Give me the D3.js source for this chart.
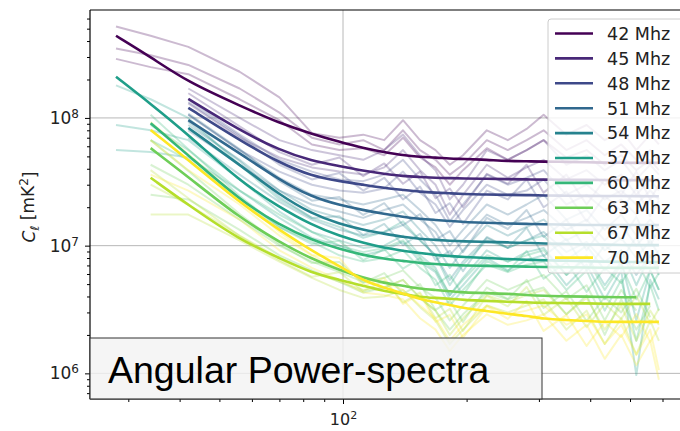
<!DOCTYPE html>
<html>
<head>
<meta charset="utf-8">
<title>Angular Power-spectra</title>
<script src="https://cdn.jsdelivr.net/npm/d3@7"></script>
<style>
    html, body { margin: 0; background: #fff; }
    svg { display: block; font-family: "DejaVu Sans", sans-serif; }
    .grid line { stroke: #b0b0b0; stroke-width: 0.9; }
    .axis path { display: none; }
    .axis line { stroke: #000; stroke-width: 1; }
    .axis text { fill: #222; font-family: "DejaVu Sans", sans-serif; }
</style>
</head>
<body>
<script>
var w = 680, h = 431;
var padL = 90, padT = 10, padR = 690, padB = 399;

var labels = ["42 Mhz", "45 Mhz", "48 Mhz", "51 Mhz", "54 Mhz", "57 Mhz", "60 Mhz", "63 Mhz", "67 Mhz", "70 Mhz"];

// multipole bins shared by every curve
var ells = [28, 34, 42, 56, 70, 84, 98, 112, 126, 140, 154, 168, 182, 196, 224, 252, 280, 308, 350, 392, 434, 476, 518, 560, 588];

// index of the first bin used by each frequency
var startBin = [0, 2, 2, 2, 2, 0, 1, 1, 1, 1];

// fitted spectra (solid lines), mK^2
var fit42 = [4.4e8, 3.0e8, 1.9e8, 1.25e8, 9.1e7, 7.5e7, 6.5e7, 5.8e7, 5.4e7, 5.1e7, 4.95e7, 4.9e7, 4.8e7, 4.78e7, 4.7e7, 4.6e7, 4.58e7, 4.55e7, 4.53e7, 4.5e7, 4.47e7, 4.45e7, 4.45e7, 4.45e7, 4.45e7];
var fit45 = [1.41e8, 8.0e7, 5.6e7, 4.6e7, 4.2e7, 3.85e7, 3.65e7, 3.5e7, 3.45e7, 3.4e7, 3.38e7, 3.36e7, 3.34e7, 3.32e7, 3.3e7, 3.29e7, 3.28e7, 3.27e7, 3.27e7, 3.26e7, 3.26e7, 3.26e7, 3.26e7];
var fit48 = [1.2e8, 6.7e7, 4.45e7, 3.5e7, 3.2e7, 3.0e7, 2.83e7, 2.73e7, 2.64e7, 2.6e7, 2.57e7, 2.54e7, 2.51e7, 2.5e7, 2.49e7, 2.47e7, 2.46e7, 2.45e7, 2.45e7, 2.45e7, 2.44e7, 2.44e7, 2.44e7];
var fit51 = [9.6e7, 5.3e7, 3.27e7, 2.4e7, 2.08e7, 1.9e7, 1.77e7, 1.68e7, 1.62e7, 1.59e7, 1.56e7, 1.53e7, 1.51e7, 1.49e7, 1.48e7, 1.47e7, 1.46e7, 1.45e7, 1.45e7, 1.45e7, 1.45e7, 1.45e7, 1.45e7];
var fit54 = [8.35e7, 4.3e7, 2.5e7, 1.77e7, 1.48e7, 1.33e7, 1.24e7, 1.17e7, 1.13e7, 1.11e7, 1.09e7, 1.08e7, 1.07e7, 1.06e7, 1.05e7, 1.04e7, 1.03e7, 1.02e7, 1.02e7, 1.01e7, 1.01e7, 1.01e7, 1.01e7];
var fit57 = [2.1e8, 1.29e8, 7.4e7, 3.2e7, 2.0e7, 1.45e7, 1.19e7, 1.05e7, 9.6e6, 9.1e6, 8.75e6, 8.45e6, 8.3e6, 8.15e6, 8.0e6, 7.85e6, 7.75e6, 7.7e6, 7.6e6, 7.55e6, 7.5e6, 7.45e6, 7.45e6, 7.45e6, 7.45e6];
var fit60 = [9.1e7, 5.1e7, 2.28e7, 1.45e7, 1.11e7, 9.4e6, 8.45e6, 7.9e6, 7.6e6, 7.3e6, 7.2e6, 7.06e6, 7.0e6, 6.95e6, 6.9e6, 6.85e6, 6.8e6, 6.78e6, 6.75e6, 6.72e6, 6.7e6, 6.7e6, 6.7e6, 6.7e6];
var fit63 = [5.8e7, 3.45e7, 1.65e7, 1.07e7, 7.85e6, 6.45e6, 5.6e6, 5.1e6, 4.85e6, 4.6e6, 4.5e6, 4.4e6, 4.3e6, 4.25e6, 4.2e6, 4.1e6, 4.05e6, 4.0e6, 4.0e6, 3.95e6, 3.95e6, 3.95e6];
var fit67 = [3.4e7, 2.08e7, 1.11e7, 8.0e6, 6.1e6, 5.4e6, 4.85e6, 4.4e6, 4.2e6, 3.95e6, 3.9e6, 3.85e6, 3.76e6, 3.7e6, 3.63e6, 3.6e6, 3.56e6, 3.55e6, 3.54e6, 3.5e6, 3.5e6, 3.5e6, 3.5e6];
var fit70 = [8.05e7, 4.69e7, 2.17e7, 1.33e7, 9.1e6, 6.95e6, 5.3e6, 4.7e6, 4.2e6, 3.82e6, 3.6e6, 3.43e6, 3.25e6, 3.08e6, 2.92e6, 2.82e6, 2.67e6, 2.62e6, 2.57e6, 2.53e6, 2.53e6, 2.53e6, 2.53e6, 2.53e6];

// individual realisations (faint lines), mK^2
var raw42a = [5.2e8, 4.4e8, 3.6e8, 2.3e8, 1.45e8, 7.6e7, 7.0e7, 7.4e7, 6.7e7, 9.6e7, 6.7e7, 5.6e7, 4.3e7, 5.1e7, 8.0e7, 6.7e7, 8.2e7, 1.06e8, 7.4e7, 8.8e7, 6.7e7, 8.0e7, 5.6e7, 7.4e7, 6.2e7];
var raw42b = [3.5e8, 3.1e8, 2.6e8, 1.7e8, 1.1e8, 7.0e7, 6.2e7, 6.7e7, 5.6e7, 8.0e7, 5.6e7, 4.7e7, 3.6e7, 4.3e7, 6.7e7, 5.6e7, 6.7e7, 8.0e7, 5.6e7, 6.7e7, 5.1e7, 6.2e7, 4.7e7, 5.6e7, 4.7e7];
var raw42c = [2.9e8, 2.5e8, 2.2e8, 1.4e8, 9.6e7, 6.2e7, 5.6e7, 5.8e7, 5.1e7, 7.0e7, 4.9e7, 4.1e7, 3.0e7, 3.9e7, 5.8e7, 4.7e7, 5.6e7, 6.7e7, 4.9e7, 5.6e7, 4.3e7, 5.1e7, 3.9e7, 4.7e7, 3.9e7];
var raw45a = [1.7e8, 1.0e8, 6.7e7, 5.6e7, 5.1e7, 4.7e7, 5.6e7, 7.4e7, 5.1e7, 3.9e7, 2.3e7, 3.0e7, 5.6e7, 4.7e7, 5.6e7, 6.7e7, 4.3e7, 5.1e7, 3.9e7, 4.7e7, 3.3e7, 4.3e7, 3.6e7];
var raw45b = [1.3e8, 7.0e7, 4.9e7, 4.1e7, 3.8e7, 3.6e7, 4.1e7, 5.6e7, 3.9e7, 3.0e7, 1.75e7, 2.5e7, 4.3e7, 3.4e7, 4.1e7, 4.7e7, 3.3e7, 3.9e7, 3.0e7, 3.6e7, 2.5e7, 3.3e7, 2.7e7];
var raw45c = [1.56e8, 8.6e7, 5.4e7, 4.3e7, 4.9e7, 3.5e7, 4.4e7, 3.05e7, 3.8e7, 2.35e7, 2.8e7, 2.0e7, 3.65e7, 3.05e7, 4.3e7, 2.6e7, 3.6e7, 2.1e7, 3.3e7, 2.5e7, 3.8e7, 2.3e7, 3.0e7];
var raw48a = [1.4e8, 7.4e7, 4.7e7, 3.8e7, 3.3e7, 3.2e7, 3.6e7, 4.7e7, 3.3e7, 2.5e7, 1.55e7, 2.1e7, 3.6e7, 3.0e7, 3.4e7, 3.9e7, 2.5e7, 3.0e7, 2.3e7, 2.7e7, 2.1e7, 2.7e7, 2.3e7];
var raw48b = [1.06e8, 5.6e7, 3.8e7, 3.0e7, 2.7e7, 2.6e7, 2.8e7, 3.8e7, 2.6e7, 2.1e7, 1.4e7, 1.9e7, 3.0e7, 2.5e7, 2.7e7, 3.3e7, 2.1e7, 2.5e7, 1.9e7, 2.3e7, 1.75e7, 2.3e7, 1.9e7];
var raw48c = [1.33e8, 7.2e7, 4.3e7, 3.3e7, 3.7e7, 2.7e7, 3.4e7, 2.3e7, 2.9e7, 1.8e7, 2.15e7, 1.48e7, 2.7e7, 2.3e7, 3.3e7, 2.0e7, 2.65e7, 1.55e7, 2.45e7, 1.88e7, 2.8e7, 1.7e7, 2.25e7];
var raw51a = [1.06e8, 5.6e7, 3.4e7, 2.5e7, 2.3e7, 2.1e7, 2.3e7, 2.5e7, 1.9e7, 1.45e7, 1.0e7, 1.33e7, 2.1e7, 1.75e7, 2.1e7, 2.5e7, 1.6e7, 1.9e7, 1.33e7, 1.75e7, 1.2e7, 1.6e7, 1.33e7];
var raw51b = [8.0e7, 4.3e7, 2.7e7, 2.1e7, 1.85e7, 1.65e7, 1.9e7, 2.1e7, 1.6e7, 1.28e7, 8.4e6, 1.1e7, 1.75e7, 1.45e7, 1.65e7, 1.9e7, 1.33e7, 1.6e7, 1.1e7, 1.45e7, 1.0e7, 1.33e7, 1.1e7];
var raw51c = [1.08e8, 5.7e7, 3.2e7, 2.25e7, 2.4e7, 1.74e7, 2.15e7, 1.45e7, 1.77e7, 1.11e7, 1.3e7, 8.9e6, 1.65e7, 1.35e7, 1.9e7, 1.17e7, 1.6e7, 9.2e6, 1.45e7, 1.11e7, 1.68e7, 1.01e7, 1.33e7];
var raw54a = [8.8e7, 4.7e7, 2.7e7, 1.9e7, 1.65e7, 1.45e7, 1.6e7, 1.85e7, 1.33e7, 1.0e7, 6.7e6, 9.2e6, 1.45e7, 1.2e7, 1.4e7, 1.6e7, 1.1e7, 1.33e7, 9.2e6, 1.15e7, 8.0e6, 1.1e7, 8.4e6];
var raw54b = [7.0e7, 3.6e7, 2.2e7, 1.6e7, 1.33e7, 1.2e7, 1.28e7, 1.45e7, 1.1e7, 8.4e6, 5.4e6, 7.5e6, 1.15e7, 9.6e6, 1.1e7, 1.28e7, 8.9e6, 1.07e7, 7.5e6, 9.2e6, 5.9e6, 8.4e6, 6.7e6];
var raw54c = [9.3e7, 4.6e7, 2.4e7, 1.65e7, 1.7e7, 1.21e7, 1.48e7, 1.01e7, 1.24e7, 7.7e6, 9.1e6, 6.3e6, 1.17e7, 9.6e6, 1.38e7, 8.3e6, 1.13e7, 6.4e6, 1.01e7, 7.7e6, 1.17e7, 7.1e6, 9.2e6];
var raw57a = [1.8e8, 1.4e8, 1.0e8, 4.3e7, 2.3e7, 1.65e7, 1.4e7, 1.15e7, 1.28e7, 1.55e7, 1.1e7, 8.4e6, 4.9e6, 7.1e6, 1.1e7, 9.6e6, 1.1e7, 1.2e7, 7.7e6, 1.0e7, 6.4e6, 9.2e6, 4.9e6, 8.4e6, 5.9e6];
var raw57b = [8.8e7, 8.0e7, 6.7e7, 3.3e7, 1.85e7, 1.28e7, 1.1e7, 9.6e6, 1.0e7, 1.2e7, 8.4e6, 6.7e6, 4.1e6, 5.6e6, 9.2e6, 7.5e6, 8.9e6, 9.6e6, 5.9e6, 8.4e6, 4.9e6, 7.5e6, 2.6e6, 6.4e6, 4.5e6];
var raw57c = [5.6e7, 5.4e7, 4.9e7, 2.7e7, 1.65e7, 1.15e7, 1.0e7, 8.4e6, 9.2e6, 1.07e7, 7.5e6, 6.2e6, 3.8e6, 4.9e6, 8.0e6, 6.4e6, 7.7e6, 8.4e6, 4.9e6, 7.1e6, 3.8e6, 6.4e6, 9.7e5, 5.4e6, 3.8e6];
var raw60a = [8.8e7, 5.6e7, 2.7e7, 1.75e7, 1.28e7, 1.0e7, 8.9e6, 9.6e6, 1.1e7, 8.0e6, 6.4e6, 4.1e6, 5.4e6, 8.4e6, 7.5e6, 8.4e6, 9.2e6, 5.9e6, 8.0e6, 4.5e6, 7.1e6, 3.8e6, 6.4e6, 4.5e6];
var raw60b = [6.7e7, 4.7e7, 2.3e7, 1.4e7, 1.07e7, 8.4e6, 7.5e6, 8.0e6, 9.2e6, 6.7e6, 5.4e6, 3.4e6, 4.5e6, 7.1e6, 6.2e6, 7.1e6, 7.5e6, 4.5e6, 6.4e6, 3.1e6, 5.4e6, 1.8e6, 4.9e6, 3.1e6];
var raw60c = [1.06e8, 5.7e7, 2.45e7, 1.4e7, 1.03e7, 1.09e7, 7.7e6, 9.4e6, 6.6e6, 8.0e6, 4.9e6, 5.9e6, 4.1e6, 7.6e6, 6.3e6, 9.1e6, 5.5e6, 7.45e6, 4.35e6, 6.7e6, 5.1e6, 7.7e6, 4.7e6, 6.1e6];
var raw63a = [4.3e7, 3.0e7, 1.6e7, 1.0e7, 7.5e6, 6.2e6, 5.2e6, 5.6e6, 6.4e6, 4.7e6, 3.9e6, 2.6e6, 3.4e6, 5.4e6, 4.5e6, 5.2e6, 5.9e6, 3.8e6, 4.9e6, 2.6e6, 4.5e6, 3.1e6];
var raw63b = [2.5e7, 2.3e7, 1.33e7, 8.4e6, 6.4e6, 5.2e6, 4.3e6, 4.7e6, 5.4e6, 3.9e6, 3.1e6, 2.2e6, 2.9e6, 4.3e6, 3.8e6, 4.3e6, 4.7e6, 2.9e6, 4.1e6, 2.0e6, 3.8e6, 2.2e6, 3.4e6];
var raw63c = [6.7e7, 3.85e7, 1.77e7, 1.03e7, 7.3e6, 7.45e6, 5.1e6, 6.1e6, 4.2e6, 5.0e6, 3.14e6, 3.7e6, 2.53e6, 4.7e6, 3.82e6, 5.4e6, 3.25e6, 4.4e6, 2.57e6, 3.95e6, 3.0e6, 4.6e6, 2.75e6];
var raw67a = [3.0e7, 2.1e7, 1.2e7, 8.0e6, 6.2e6, 5.2e6, 4.5e6, 4.7e6, 5.4e6, 3.9e6, 3.1e6, 2.0e6, 2.7e6, 4.1e6, 3.6e6, 4.1e6, 4.5e6, 2.9e6, 3.9e6, 2.2e6, 3.4e6, 1.8e6, 3.1e6, 2.4e6];
var raw67b = [1.75e7, 1.75e7, 1.1e7, 7.5e6, 5.6e6, 4.5e6, 3.9e6, 4.0e6, 4.5e6, 3.3e6, 2.6e6, 1.7e6, 2.2e6, 3.4e6, 3.0e6, 3.4e6, 3.8e6, 2.2e6, 3.1e6, 1.7e6, 2.7e6, 1.4e6, 2.6e6, 1.8e6];
var raw67c = [3.9e7, 2.35e7, 1.19e7, 7.7e6, 5.7e6, 6.2e6, 4.4e6, 5.3e6, 3.6e6, 4.3e6, 2.7e6, 3.2e6, 2.15e6, 4.05e6, 3.35e6, 4.75e6, 2.87e6, 3.9e6, 2.3e6, 3.5e6, 2.67e6, 4.05e6, 2.45e6, 3.2e6];
var raw70a = [6.7e7, 3.9e7, 2.1e7, 1.2e7, 8.4e6, 6.7e6, 5.4e6, 5.2e6, 4.5e6, 3.4e6, 2.7e6, 1.8e6, 2.4e6, 3.4e6, 2.9e6, 3.1e6, 3.4e6, 2.4e6, 2.9e6, 1.7e6, 2.4e6, 1.4e6, 2.2e6, 1.06e6];
var raw70b = [3.6e7, 2.7e7, 1.6e7, 9.2e6, 6.7e6, 5.4e6, 4.3e6, 4.1e6, 3.8e6, 2.7e6, 2.2e6, 1.5e6, 2.0e6, 2.9e6, 2.4e6, 2.6e6, 2.9e6, 1.8e6, 2.4e6, 1.3e6, 2.0e6, 1.16e6, 1.8e6, 8.9e5];
var raw70c = [9.3e7, 5.2e7, 2.35e7, 1.28e7, 8.45e6, 8.0e6, 4.85e6, 5.6e6, 3.5e6, 4.2e6, 2.53e6, 2.87e6, 1.9e6, 3.35e6, 2.67e6, 3.7e6, 2.15e6, 2.87e6, 1.64e6, 2.53e6, 1.93e6, 2.92e6, 1.76e6, 2.3e6];

var fits = [fit42, fit45, fit48, fit51, fit54, fit57, fit60, fit63, fit67, fit70];
var raws = [[raw42a, raw42b, raw42c], [raw45a, raw45b, raw45c], [raw48a, raw48b, raw48c], [raw51a, raw51b, raw51c],
            [raw54a, raw54b, raw54c], [raw57a, raw57b, raw57c], [raw60a, raw60b, raw60c], [raw63a, raw63b, raw63c],
            [raw67a, raw67b, raw67c], [raw70a, raw70b, raw70c]];

var yTicks = [1e6, 1e7, 1e8];
var xTicks = [100];

var x = d3.scaleLog().domain([24.2, 700]).range([padL, padR]);
var y = d3.scaleLog().domain([6.3e5, 7.0e8]).range([padB, padT]);

function colour(i) {
    return d3.interpolateViridis(i / (labels.length - 1));
}

function points(arr, start) {
    return arr.map(function (v, j) { return [ells[start + j], v]; });
}

var svg = d3.select("body").append("svg")
    .attr("width", w)
    .attr("height", h);

svg.append("defs").append("clipPath").attr("id", "plot")
    .append("rect")
    .attr("x", padL).attr("y", padT)
    .attr("width", padR - padL).attr("height", padB - padT);

// grid
var grid = svg.append("g").attr("class", "grid");
yTicks.forEach(function (t) {
    grid.append("line")
        .attr("x1", padL).attr("x2", padR)
        .attr("y1", y(t)).attr("y2", y(t));
});
xTicks.forEach(function (t) {
    grid.append("line")
        .attr("x1", x(t)).attr("x2", x(t))
        .attr("y1", padT).attr("y2", padB);
});

var line = d3.line()
    .x(function (d) { return x(d[0]); })
    .y(function (d) { return y(d[1]); });

var smooth = d3.line()
    .x(function (d) { return x(d[0]); })
    .y(function (d) { return y(d[1]); })
    .curve(d3.curveBasis);

var plot = svg.append("g").attr("clip-path", "url(#plot)");

fits.forEach(function (fit, i) {
    raws[i].forEach(function (r) {
        plot.append("path")
            .attr("d", line(points(r, startBin[i])))
            .attr("fill", "none")
            .attr("stroke", colour(i))
            .attr("stroke-opacity", 0.27)
            .attr("stroke-width", 2)
            .attr("stroke-linejoin", "round");
    });
});

fits.forEach(function (fit, i) {
    plot.append("path")
        .attr("d", smooth(points(fit, startBin[i])))
        .attr("fill", "none")
        .attr("stroke", colour(i))
        .attr("stroke-width", 2.6);
});

// axes
var yMinor = [];
[1e5, 1e6, 1e7, 1e8].forEach(function (d) {
    for (var k = 2; k < 10; k++) {
        if (d * k > 6.3e5 && d * k < 7.0e8) yMinor.push(d * k);
    }
});
var xMinor = [30, 40, 50, 60, 70, 80, 90, 200, 300, 400, 500, 600];

svg.append("g").attr("class", "axis")
    .attr("transform", "translate(" + padL + ",0)")
    .call(d3.axisLeft(y).tickValues(yMinor).tickSize(3).tickFormat(""));

var yAxis = svg.append("g").attr("class", "axis")
    .attr("transform", "translate(" + padL + ",0)")
    .call(d3.axisLeft(y).tickValues(yTicks).tickSize(5).tickPadding(6));

svg.append("g").attr("class", "axis")
    .attr("transform", "translate(0," + padB + ")")
    .call(d3.axisBottom(x).tickValues(xMinor).tickSize(3).tickFormat(""));

var xAxis = svg.append("g").attr("class", "axis")
    .attr("transform", "translate(0," + padB + ")")
    .call(d3.axisBottom(x).tickValues(xTicks).tickSize(5).tickPadding(7));

function powerLabel(sel, size) {
    sel.selectAll(".tick text").each(function (d) {
        var t = d3.select(this).text("").style("font-size", size + "px");
        t.append("tspan").text("10");
        t.append("tspan").attr("dy", "-0.5em").style("font-size", Math.round(size * 0.7) + "px")
            .text(Math.round(Math.log10(d)));
    });
}
powerLabel(yAxis, 17);
powerLabel(xAxis, 16);
xAxis.selectAll(".tick text").attr("dy", "0.85em");

// spines
svg.append("line").attr("x1", padL).attr("x2", padL).attr("y1", padT).attr("y2", padB)
    .attr("stroke", "#000").attr("stroke-width", 1.2);
svg.append("line").attr("x1", padL).attr("x2", padR).attr("y1", padT).attr("y2", padT)
    .attr("stroke", "#000").attr("stroke-width", 1.2);
svg.append("line").attr("x1", padL).attr("x2", padR).attr("y1", padB).attr("y2", padB)
    .attr("stroke", "#000").attr("stroke-width", 1.2);

// y label
var yl = svg.append("text")
    .attr("transform", "translate(35,207) rotate(-90)")
    .attr("text-anchor", "middle")
    .style("font-size", "17px")
    .attr("fill", "#222");
yl.append("tspan").style("font-style", "italic").text("C");
yl.append("tspan").attr("dy", "0.3em").style("font-size", "12px").style("font-style", "italic").text("\u2113");
yl.append("tspan").attr("dy", "-0.3em").text(" [mK");
yl.append("tspan").attr("dy", "-0.45em").style("font-size", "12px").text("2");
yl.append("tspan").attr("dy", "0.45em").text("]");

// legend
var lg = svg.append("g");
lg.append("rect")
    .attr("x", 548).attr("y", 19)
    .attr("width", 150).attr("height", 254)
    .attr("rx", 3)
    .attr("fill", "#fff").attr("fill-opacity", 0.8)
    .attr("stroke", "#cccccc");

labels.forEach(function (name, i) {
    var cy = 33.5 + i * 24.9;
    lg.append("line")
        .attr("x1", 555).attr("x2", 593)
        .attr("y1", cy).attr("y2", cy)
        .attr("stroke", colour(i))
        .attr("stroke-width", 2.6);
    lg.append("text")
        .attr("x", 607).attr("y", cy)
        .attr("dy", "0.36em")
        .style("font-size", "17.5px")
        .attr("fill", "#222")
        .text(name);
});

// title box
svg.append("rect")
    .attr("x", padL).attr("y", 338)
    .attr("width", 452).attr("height", padB - 338)
    .attr("fill", "#f2f2f2").attr("fill-opacity", 0.8)
    .attr("stroke", "#333").attr("stroke-width", 1);

svg.append("text")
    .attr("x", 108).attr("y", 383)
    .style("font-family", "'Liberation Sans', Arial, sans-serif")
    .style("font-size", "37.5px")
    .attr("fill", "#000")
    .text("Angular Power-spectra");
</script>
</body>
</html>
